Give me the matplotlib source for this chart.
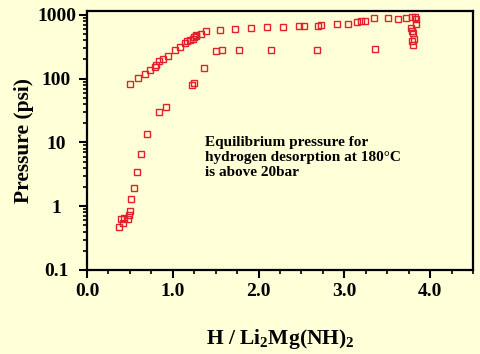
import numpy as np
import matplotlib
matplotlib.use('Agg')
import matplotlib.pyplot as plt
from matplotlib.ticker import MultipleLocator, LogLocator, NullFormatter, FixedLocator

# Datos (H / Li2Mg(NH)2 , presión en psi)
# rama superior (absorción)
x_abs = [0.375, 0.40, 0.42, 0.43, 0.48, 0.49, 0.50, 0.515, 0.55, 0.58, 0.63,
         0.705, 0.845, 0.92, 1.22, 1.25, 1.36, 1.50, 1.57, 1.77, 2.14,
         2.68, 3.36]
p_abs = [0.47, 0.64, 0.55, 0.66, 0.62, 0.74, 0.85, 1.32, 1.95, 3.4, 6.6,
         13.7, 29.5, 36.5, 79, 87, 148, 273, 285, 285, 285,
         285, 290]

# rama de desorción
x_des = [0.50, 0.59, 0.674, 0.733, 0.787, 0.81, 0.845, 0.89, 0.94, 1.03,
         1.09, 1.14, 1.17, 1.20, 1.23, 1.25, 1.275, 1.27, 1.33, 1.39,
         1.55, 1.72, 1.91, 2.10, 2.29, 2.47, 2.535, 2.69, 2.73, 2.91,
         3.04, 3.15, 3.19, 3.24, 3.35, 3.51, 3.63, 3.72, 3.79, 3.82,
         3.83, 3.83, 3.78, 3.79, 3.80, 3.81, 3.79, 3.80]
p_des = [81, 104, 120, 137, 155, 163, 186, 206, 230, 280,
         318, 360, 390, 406, 426, 455, 480, 465, 505, 556,
         583, 600, 620, 635, 643, 660, 660, 660, 690, 730,
         730, 770, 795, 795, 895, 895, 850, 895, 940, 920,
         850, 710, 630, 560, 515, 415, 390, 337]

texto = 'Equilibrium pressure for\nhydrogen desorption at 180\u00b0C\nis above 20bar'

bg = '#FFFFD8'
rojo = '#E3202C'

plt.rcParams['font.family'] = ['Liberation Serif', 'DejaVu Serif']
plt.rcParams['font.weight'] = 'bold'
plt.rcParams['mathtext.fontset'] = 'custom'
plt.rcParams['mathtext.rm'] = 'Liberation Serif:bold'
plt.rcParams['mathtext.it'] = 'Liberation Serif:bold'

fig = plt.figure(figsize=(4.81, 3.54), dpi=100, facecolor=bg)
ax = fig.add_axes([87/481, 1 - 270/354, (473-87)/481, (270-11)/354])
ax.set_facecolor(bg)

ax.plot(x_abs, p_abs, 's', ms=5, mfc='none', mec=rojo, mew=1.0)
ax.plot(x_des, p_des, 's', ms=5, mfc='none', mec=rojo, mew=1.0)

ax.set_yscale('log')
ax.set_xlim(0, 4.5)
ax.set_ylim(0.1, 1150)

ax.xaxis.set_major_locator(MultipleLocator(1.0))
ax.xaxis.set_minor_locator(FixedLocator(np.arange(0, 4.51, 0.25)))
ax.xaxis.set_major_formatter(plt.FuncFormatter(lambda v, pos: f'{v:.1f}'))
ax.yaxis.set_major_locator(LogLocator(base=10, numticks=10))
ax.yaxis.set_minor_locator(LogLocator(base=10, subs=np.arange(2, 10), numticks=20))
ax.yaxis.set_minor_formatter(NullFormatter())
ax.yaxis.set_major_formatter(plt.FuncFormatter(lambda v, pos: f'{v:g}'))

for s in ax.spines.values():
    s.set_linewidth(1.6)
ax.tick_params(which='major', length=6, width=1.5, labelsize=14)
ax.tick_params(which='minor', length=3, width=1.2)
ax.tick_params(axis='x', which='major', pad=3)
ax.tick_params(axis='y', which='major', pad=16)
for lab in ax.get_yticklabels():
    lab.set_horizontalalignment('center')

ax.set_xlabel('H / Li$_2$Mg(NH)$_2$', fontsize=15.5, fontweight='bold')
ax.xaxis.set_label_coords(0.5, -0.22)
ax.set_ylabel('Pressure (psi)', fontsize=15.5, fontweight='bold')
ax.yaxis.set_label_coords(-0.137, 0.5)

ax.text(1.37, 12.5, texto, fontsize=11, fontweight='bold', va='top', ha='left',
        linespacing=1.2)

plt.savefig('out.png', dpi=100, facecolor=bg)
